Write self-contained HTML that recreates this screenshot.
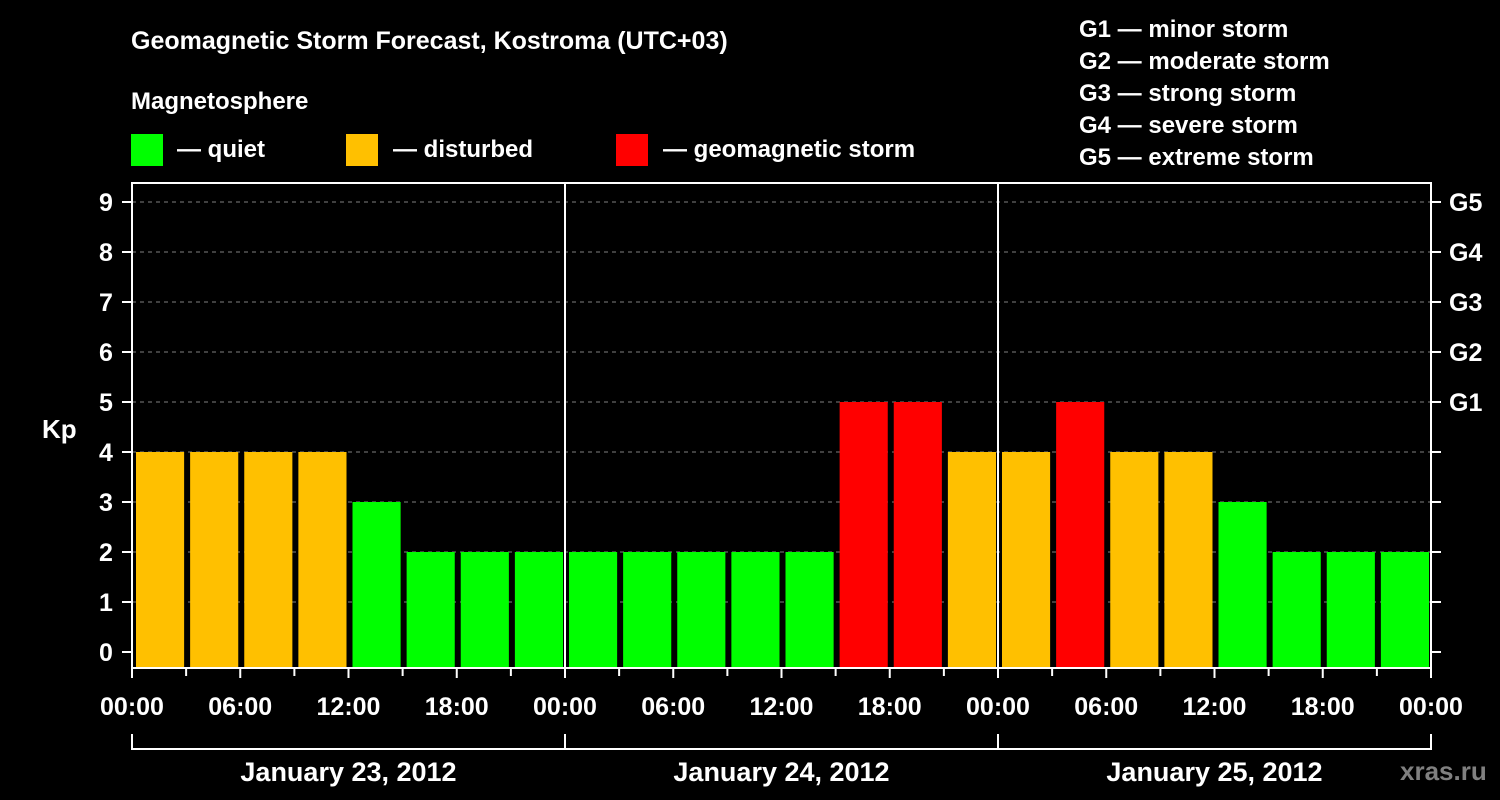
<!DOCTYPE html>
<html><head><meta charset="utf-8"><style>
html,body{margin:0;padding:0;background:#000;width:1500px;height:800px;overflow:hidden}
svg text{font-family:"Liberation Sans",Arial,sans-serif;font-weight:bold;fill:#fff}
</style></head><body>
<svg id="chart" width="1500" height="800" viewBox="0 0 1500 800" xmlns="http://www.w3.org/2000/svg">
<text x="131" y="49" font-size="25">Geomagnetic Storm Forecast, Kostroma (UTC+03)</text>
<text x="131" y="109" font-size="24">Magnetosphere</text>
<g>
<rect x="131" y="134" width="32" height="32" fill="#00ff00"/>
<text x="177" y="157" font-size="24">— quiet</text>
<rect x="346" y="134" width="32" height="32" fill="#ffc000"/>
<text x="393" y="157" font-size="24">— disturbed</text>
<rect x="616" y="134" width="32" height="32" fill="#ff0000"/>
<text x="663" y="157" font-size="24">— geomagnetic storm</text>
</g>
<g font-size="24">
<text x="1079" y="37">G1 — minor storm</text>
<text x="1079" y="69">G2 — moderate storm</text>
<text x="1079" y="101">G3 — strong storm</text>
<text x="1079" y="133">G4 — severe storm</text>
<text x="1079" y="165">G5 — extreme storm</text>
</g>
<g id="grid"></g><g id="bars"></g><g id="axes"></g>
<text x="42" y="438" font-size="26">Kp</text>
<text x="1400" y="780" font-size="26" style="fill:#808080">xras.ru</text>
</svg>
<script>
const kpValues=[4,4,4,4,3,2,2,2, 2,2,2,2,2,5,5,4, 4,5,4,4,3,2,2,2];
const yTicks=[0,1,2,3,4,5,6,7,8,9];
const gLabels=["G1","G2","G3","G4","G5"];
const gLevels=[5,6,7,8,9];
const xTickLabels=["00:00","06:00","12:00","18:00","00:00","06:00","12:00","18:00","00:00","06:00","12:00","18:00","00:00"];
const dayLabels=["January 23, 2012","January 24, 2012","January 25, 2012"];
const NS="http://www.w3.org/2000/svg";
const L=132,R=1431,T=183,B=668;
const xs=h=>L+(R-L)*h/72;
const ys=v=>652-50*v;
function mk(tag,attrs,parent,text){const e=document.createElementNS(NS,tag);for(const k in attrs)e.setAttribute(k,attrs[k]);if(text!==undefined)e.textContent=text;parent.appendChild(e);return e;}
const grid=document.getElementById('grid'),bars=document.getElementById('bars'),axes=document.getElementById('axes');
yTicks.forEach(v=>{
 if(v>0){const g=mk('line',{x1:L,x2:R,y1:ys(v),y2:ys(v),stroke:'#808080','stroke-width':1,'stroke-dasharray':'4,4'},grid);
 
 }
 const t=mk('line',{x1:122,x2:L,y1:ys(v),y2:ys(v),stroke:'#fff','stroke-width':2},axes);
 
 
 const t2=mk('line',{x1:R,x2:R+10,y1:ys(v),y2:ys(v),stroke:'#fff','stroke-width':2},axes);
 
 
 const lb=mk('text',{x:106,y:ys(v)+9,'font-size':25,'text-anchor':'middle'},axes,String(v));
 
 
});
gLabels.forEach((g,i)=>{
 const lb=mk('text',{x:1449,y:ys(gLevels[i])+9,'font-size':25},axes,g);
 
 
});
kpValues.forEach((v,i)=>{
 const c=v>=5?'#ff0000':(v>=4?'#ffc000':'#00ff00');
 const x0=xs(i*3)+4,x1=xs(i*3+3)-2;
 const r=mk('rect',{x:x0,y:ys(v),width:x1-x0,height:B-ys(v),fill:c},bars);
 
 
});
[24,48].forEach(h=>{
 const d=mk('line',{x1:xs(h),x2:xs(h),y1:T,y2:B,stroke:'#fff','stroke-width':2},axes);
 
 
});
const fr=mk('rect',{x:L,y:T,width:R-L,height:B-T,fill:'none',stroke:'#fff','stroke-width':2},axes);


for(let h=0;h<=72;h+=3){
 const t=mk('line',{x1:xs(h),x2:xs(h),y1:B,y2:h%6===0?678:676,stroke:'#fff','stroke-width':2},axes);
 
 
}
xTickLabels.forEach((s,i)=>{
 const t=mk('text',{x:xs(i*6),y:715,'font-size':25,'text-anchor':'middle'},axes,s);
 
 
});
const br=mk('path',{d:`M${xs(0)} 734V749H${xs(72)}V734M${xs(24)} 734V749M${xs(48)} 734V749`,fill:'none',stroke:'#fff','stroke-width':2},axes);


dayLabels.forEach((s,i)=>{
 const t=mk('text',{x:xs(i*24+12),y:781,'font-size':27,'text-anchor':'middle'},axes,s);
 
 
});
</script>
</body></html>
